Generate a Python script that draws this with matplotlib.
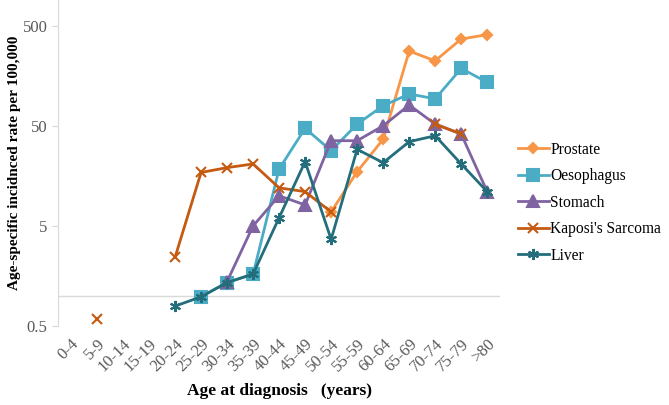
"""Age-specific incidence rates by cancer type (log scale)."""
import numpy as np
import matplotlib.pyplot as plt

nan = np.nan
age_groups = ['0-4', '5-9', '10-14', '15-19', '20-24', '25-29', '30-34', '35-39',
              '40-44', '45-49', '50-54', '55-59', '60-64', '65-69', '70-74',
              '75-79', '>80']

prostate = [nan, nan, nan, nan, nan, nan, nan, nan, nan, nan,
            6.9, 17.4, 36.7, 279, 223, 368, 407]
oesophagus = [nan, nan, nan, nan, nan, 0.98, 1.36, 1.65, 18.5, 47.2,
              28.2, 52, 79.4, 104, 93, 187, 136]
stomach = [nan, nan, nan, nan, nan, nan, 1.39, 5.0, 10.0, 8.1,
           35.5, 35.5, 50, 80.7, 52, 41.4, 11.0]
kaposi = [nan, 0.59, nan, nan, 2.43, 17.1, 19.1, 20.8, 12.0, 11.0,
          6.9, nan, nan, nan, 52, 41.4, nan]
liver = [nan, nan, nan, nan, 0.79, 0.98, 1.36, 1.65, 6.04, 21.9,
         3.67, 29.1, 21.4, 34.7, 39.8, 20.8, 11.0]

series = [
    ('Prostate', prostate, '#F79646', 'D', 5.5),
    ('Oesophagus', oesophagus, '#4BACC6', 's', 8),
    ('Stomach', stomach, '#8064A2', '^', 8),
    ("Kaposi's Sarcoma", kaposi, '#C55A11', 'x', 7),
    ('Liver', liver, '#246E7C', (6, 2, 0), 8),
]

plt.rcParams['font.family'] = ['Liberation Serif', 'DejaVu Serif']

fig = plt.figure(figsize=(6.69, 4.05), dpi=100)
ax = fig.add_axes([0.0867, 0.195, 0.661, 0.805])

x = np.arange(len(age_groups))
for name, vals, col, mk, ms in series:
    ax.plot(x, vals, color=col, lw=2, marker=mk, markersize=ms,
            markeredgewidth=1.5, markerfacecolor=col, markeredgecolor=col,
            label=name)

ax.set_yscale('log')
ax.set_ylim(0.5, 903)
ax.set_xlim(-0.5, len(age_groups) - 0.5)
ax.set_yticks([0.5, 5, 50, 500])
ax.set_yticklabels(['0.5', '5', '50', '500'])
ax.minorticks_off()
ax.set_xticks(x)
ax.set_xticklabels(age_groups, rotation=45, ha='right', rotation_mode='anchor')
ax.tick_params(axis='y', colors='#595959', labelsize=12, length=4, color='#d9d9d9')
ax.tick_params(axis='x', colors='#595959', labelsize=12, length=0, pad=7)

for s in ['top', 'right', 'bottom']:
    ax.spines[s].set_visible(False)
ax.spines['left'].set_color('#d9d9d9')
ax.axhline(1.0, color='#d9d9d9', lw=1, zorder=0)

ax.set_ylabel('Age-specific incidnced rate per 100,000', fontweight='bold',
              fontsize=11, labelpad=1)
ax.set_xlabel('Age at diagnosis   (years)', fontweight='bold', fontsize=12.5,
              labelpad=6)

ax.legend(loc='center left', bbox_to_anchor=(1.008, 0.378), frameon=False,
          fontsize=11.2, handlelength=2.0, handletextpad=0.1, labelspacing=0.68)

fig.savefig('out.png', dpi=100)
